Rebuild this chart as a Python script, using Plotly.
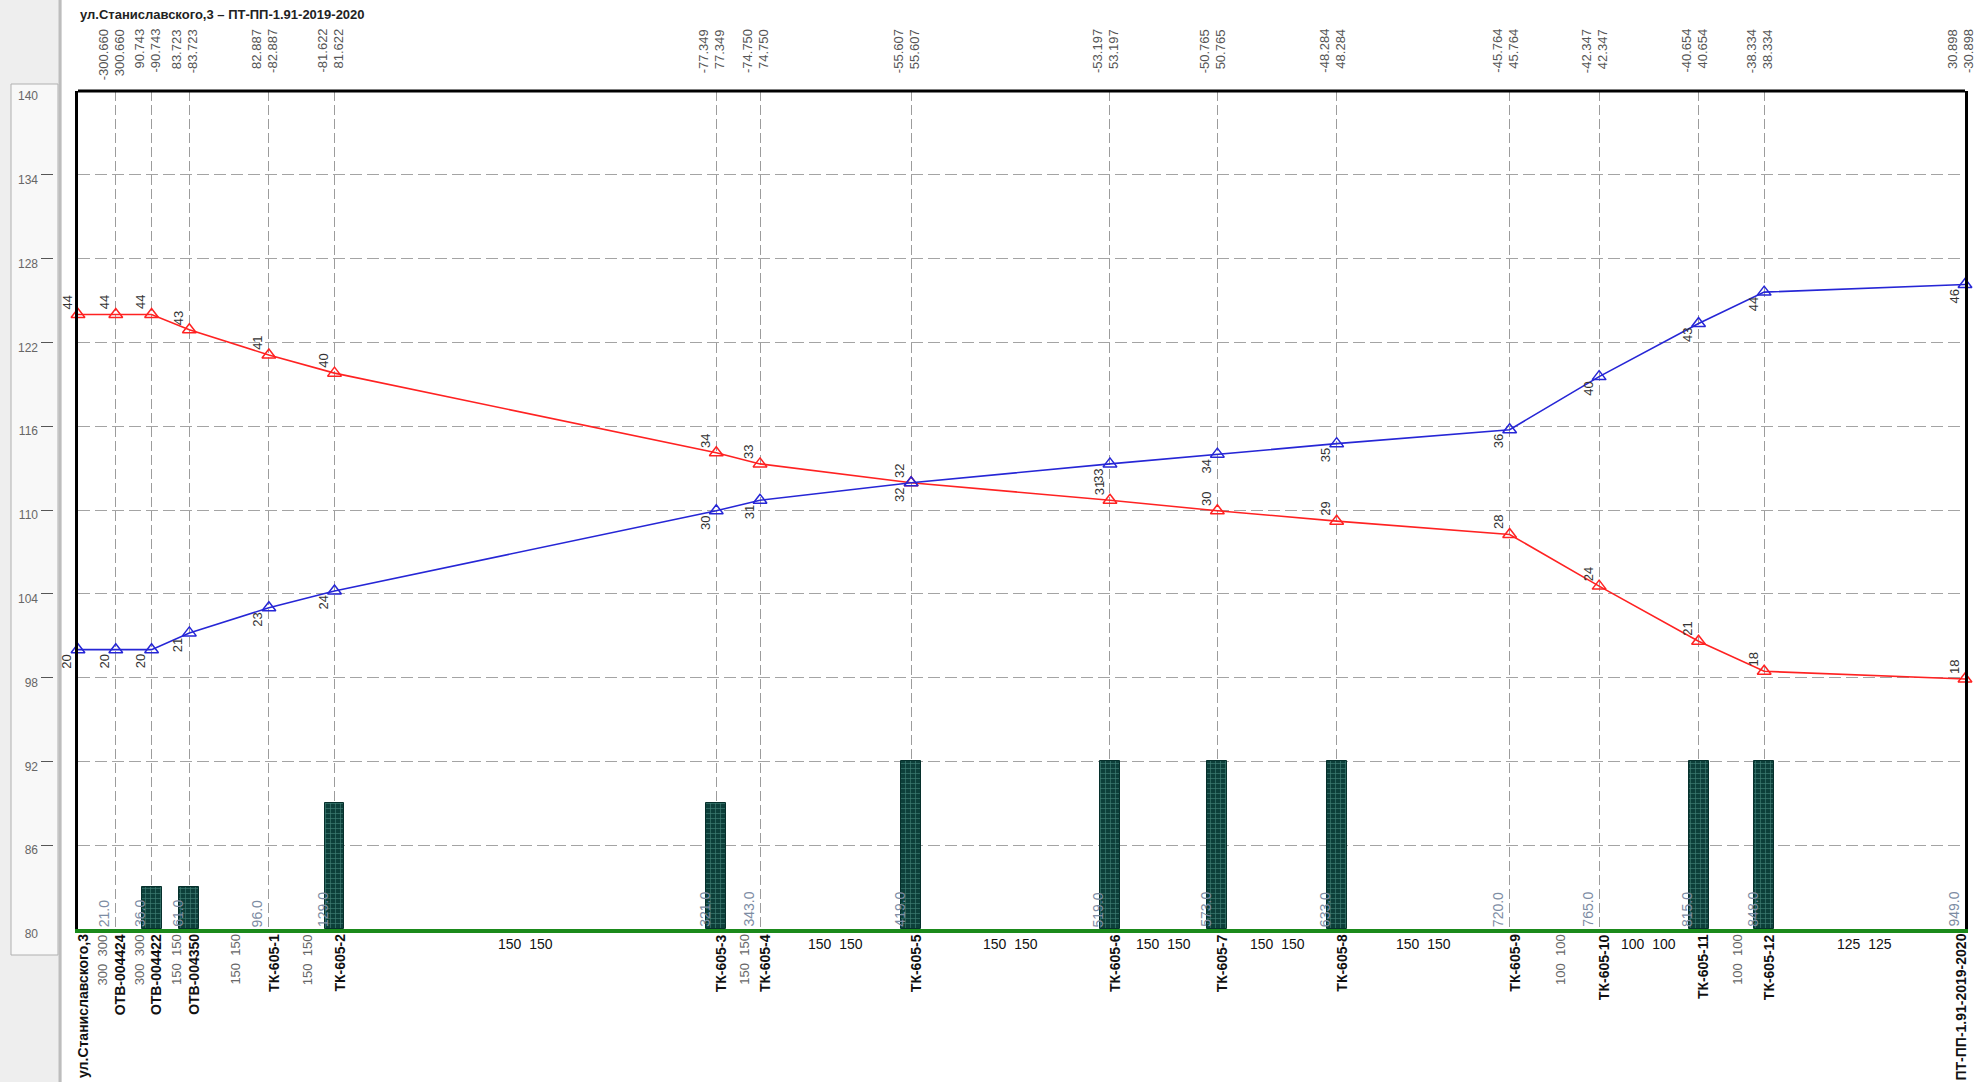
import plotly.graph_objects as go

# ---------------- data ----------------
nodes = ["ул.Станиславского,3", "ОТВ-004424", "ОТВ-004422", "ОТВ-004350", "ТК-605-1", "ТК-605-2",
         "ТК-605-3", "ТК-605-4", "ТК-605-5", "ТК-605-6", "ТК-605-7", "ТК-605-8", "ТК-605-9",
         "ТК-605-10", "ТК-605-11", "ТК-605-12", "ПТ-ПП-1.91-2019-2020"]
dist = [0, 19, 37, 56, 96, 129, 321, 343, 419, 519, 573, 633, 720, 765, 815, 848, 949]
dist_labels = ["", "21.0", "36.0", "61.0", "96.0", "129.0", "321.0", "343.0", "419.0", "519.0",
               "573.0", "633.0", "720.0", "765.0", "815.0", "848.0", "949.0"]
supply = [124.0, 124.0, 124.0, 122.9, 121.1, 119.8, 114.1, 113.3, 111.95, 110.7, 109.95, 109.2,
          108.25, 104.55, 100.6, 98.45, 97.9]
ret = [100.0, 100.0, 100.0, 101.2, 103.0, 104.2, 109.95, 110.7, 111.95, 113.3, 114.0, 114.75,
       115.75, 119.55, 123.35, 125.6, 126.15]
supply_labels = ["44", "44", "44", "43", "41", "40", "34", "33", "32", "31", "30", "29", "28",
                 "24", "21", "18", "18"]
return_labels = ["20", "20", "20", "21", "23", "24", "30", "31", "32", "33", "34", "35", "36",
                 "40", "43", "44", "46"]
top_left = ["", "-300.660", "90.743", "83.723", "82.887", "-81.622", "-77.349", "-74.750", "-55.607",
            "-53.197", "-50.765", "-48.284", "-45.764", "-42.347", "-40.654", "-38.334", "30.898"]
top_right = ["", "300.660", "-90.743", "-83.723", "-82.887", "81.622", "77.349", "74.750", "55.607",
             "53.197", "50.765", "48.284", "45.764", "42.347", "40.654", "38.334", "-30.898"]
diameters = ["300  300", "300  300", "150  150", "150  150", "150  150", "150  150", "150  150",
             "150  150", "150  150", "150  150", "150  150", "150  150", "100  100", "100  100",
             "100  100", "125  125"]
bar_nodes = ["ОТВ-004422", "ОТВ-004350", "ТК-605-2", "ТК-605-3", "ТК-605-5", "ТК-605-6",
             "ТК-605-7", "ТК-605-8", "ТК-605-11", "ТК-605-12"]
bar_tops = [83, 83, 89, 89, 92, 92, 92, 92, 92, 92]
y_ticks = [80, 86, 92, 98, 104, 110, 116, 122, 128, 134, 140]
title_text = "ул.Станиславского,3 – ПТ-ПП-1.91-2019-2020"

# ---------------- figure ----------------
W, H = 1982, 1082
ML, MR, MT, MB = 0, 17, 91, 153
PW = W - ML - MR
PH = H - MT - MB
plot_left_px = 78


def px_x(p):
    return p / PW


def px_y(p):
    return (H - MB - p) / PH


FONT = "Liberation Sans, Arial, sans-serif"
BASE_Y = y_ticks[0]

fig = go.Figure()

bar_x = [dist[nodes.index(n)] for n in bar_nodes]
fig.add_trace(go.Bar(
    x=bar_x, y=[t - BASE_Y for t in bar_tops], base=BASE_Y, width=10,
    marker=dict(color="#0d3f3a", line=dict(color="#06302c", width=1),
                pattern=dict(shape="+", fgcolor="#3f7d73", bgcolor="#0d3f3a", size=5,
                             solidity=0.25, fillmode="replace")),
    hoverinfo="skip", showlegend=False))

fig.add_trace(go.Scatter(
    x=dist, y=supply, mode="lines+markers", cliponaxis=False,
    line=dict(color="#ff2222", width=1.6),
    marker=dict(symbol="triangle-up-open", size=12, color="#ff2222", line=dict(width=1.5)),
    showlegend=False))
fig.add_trace(go.Scatter(
    x=dist, y=ret, mode="lines+markers", cliponaxis=False,
    line=dict(color="#2626d6", width=1.6),
    marker=dict(symbol="triangle-up-open", size=12, color="#2626d6", line=dict(width=1.5)),
    showlegend=False))
# invisible carrier so the left tick panel axis is drawn
fig.add_trace(go.Scatter(x=[dist[0]], y=[y_ticks[0]], yaxis="y2", mode="markers",
                         marker=dict(opacity=0), hoverinfo="skip", showlegend=False))

ann = []
# title
ann.append(dict(text="<b>" + title_text + "</b>", xref="paper", yref="paper",
                x=px_x(plot_left_px), y=px_y(15), xanchor="left", yanchor="middle",
                showarrow=False, font=dict(family=FONT, size=13, color="#222")))

# marker value labels
for d, v, t in zip(dist, supply, supply_labels):
    ann.append(dict(text=t, x=d, y=v, xref="x", yref="y", showarrow=False, textangle=-90,
                    xshift=-11, yshift=12, font=dict(family=FONT, size=13, color="#333")))
for d, v, t in zip(dist, ret, return_labels):
    ann.append(dict(text=t, x=d, y=v, xref="x", yref="y", showarrow=False, textangle=-90,
                    xshift=-11, yshift=-12, font=dict(family=FONT, size=13, color="#333")))

# top value pairs
for d, a, b in zip(dist, top_left, top_right):
    if a:
        ann.append(dict(text=a, x=d, xref="x", yref="paper", y=px_y(27), yanchor="top",
                        showarrow=False, textangle=-90, xshift=-12,
                        font=dict(family=FONT, size=13, color="#555")))
    if b:
        ann.append(dict(text=b, x=d, xref="x", yref="paper", y=px_y(27), yanchor="top",
                        showarrow=False, textangle=-90, xshift=4,
                        font=dict(family=FONT, size=13, color="#555")))

# distance labels at the axis
for d, t in zip(dist, dist_labels):
    if t:
        ann.append(dict(text=t, x=d, y=BASE_Y, xref="x", yref="y", yanchor="bottom",
                        showarrow=False, textangle=-90, xshift=-12,
                        font=dict(family=FONT, size=14, color="#7d8ca3")))

# node names
for i, (d, n) in enumerate(zip(dist, nodes)):
    xs = 5 if i < len(nodes) - 1 else -4
    ann.append(dict(text="<b>" + n + "</b>", x=d, xref="x", yref="paper", y=px_y(932),
                    yanchor="top", showarrow=False, textangle=-90, xshift=xs,
                    font=dict(family=FONT, size=14, color="#111")))

# diameters between nodes
for i, t in enumerate(diameters):
    mid = (dist[i] + dist[i + 1]) / 2
    seg = dist[i + 1] - dist[i]
    if seg >= 48:
        ann.append(dict(text=t, x=mid, xref="x", yref="paper", y=px_y(944), yanchor="middle",
                        showarrow=False, font=dict(family=FONT, size=14, color="#111")))
    else:
        ann.append(dict(text=t, x=mid, xref="x", yref="paper", y=px_y(932), yanchor="top",
                        showarrow=False, textangle=-90, xshift=6,
                        font=dict(family=FONT, size=13, color="#666")))

shapes = [
    # left tick panel
    dict(type="rect", xref="paper", yref="paper", x0=0, x1=px_x(62), y0=px_y(H), y1=px_y(0),
         fillcolor="#eeeeee", line=dict(width=0), layer="below"),
    dict(type="rect", xref="paper", yref="paper", x0=px_x(11), x1=px_x(58), y0=px_y(955),
         y1=px_y(84), fillcolor="#f8f8f8", line=dict(color="#b0b0b0", width=1), layer="below"),
    dict(type="line", xref="paper", yref="paper", x0=px_x(60), x1=px_x(60), y0=px_y(H),
         y1=px_y(0), line=dict(color="#bdbdbd", width=3)),
    # top frame
    dict(type="line", xref="paper", yref="paper", x0=px_x(plot_left_px), x1=1, y0=1, y1=1,
         line=dict(color="black", width=3)),
]

fig.update_layout(
    width=W, height=H,
    margin=dict(l=ML, r=MR, t=MT, b=MB),
    paper_bgcolor="white", plot_bgcolor="white",
    showlegend=False, bargap=0,
    annotations=ann, shapes=shapes,
    xaxis=dict(domain=[px_x(plot_left_px), 1], range=[dist[0], dist[-1]],
               tickvals=dist, showticklabels=False, ticks="",
               showgrid=True, gridcolor="#9c9c9c", gridwidth=1, griddash="10px,4px",
               zeroline=False, showline=True, linecolor="#1b8a1b", linewidth=4),
    yaxis=dict(range=[y_ticks[0], y_ticks[-1]], tickvals=y_ticks, showticklabels=False,
               ticks="", showgrid=True, gridcolor="#a4a4a4", gridwidth=1, griddash="12px,5px",
               zeroline=False, showline=True, linecolor="black", linewidth=3, mirror=True),
    yaxis2=dict(overlaying="y", anchor="free", position=px_x(40), side="left",
                range=[y_ticks[0], y_ticks[-1]], tickvals=y_ticks,
                ticktext=[str(v) for v in y_ticks], ticks="inside", ticklen=12,
                tickcolor="#555", tickwidth=1, showgrid=False, zeroline=False, showline=False,
                ticklabelshift=5, ticklabelstandoff=2,
                tickfont=dict(family=FONT, size=12, color="#666")),
)

fig.write_html("out.html", config={"displayModeBar": False},
               post_script="document.body.style.margin='0';document.body.style.overflow='hidden';")
